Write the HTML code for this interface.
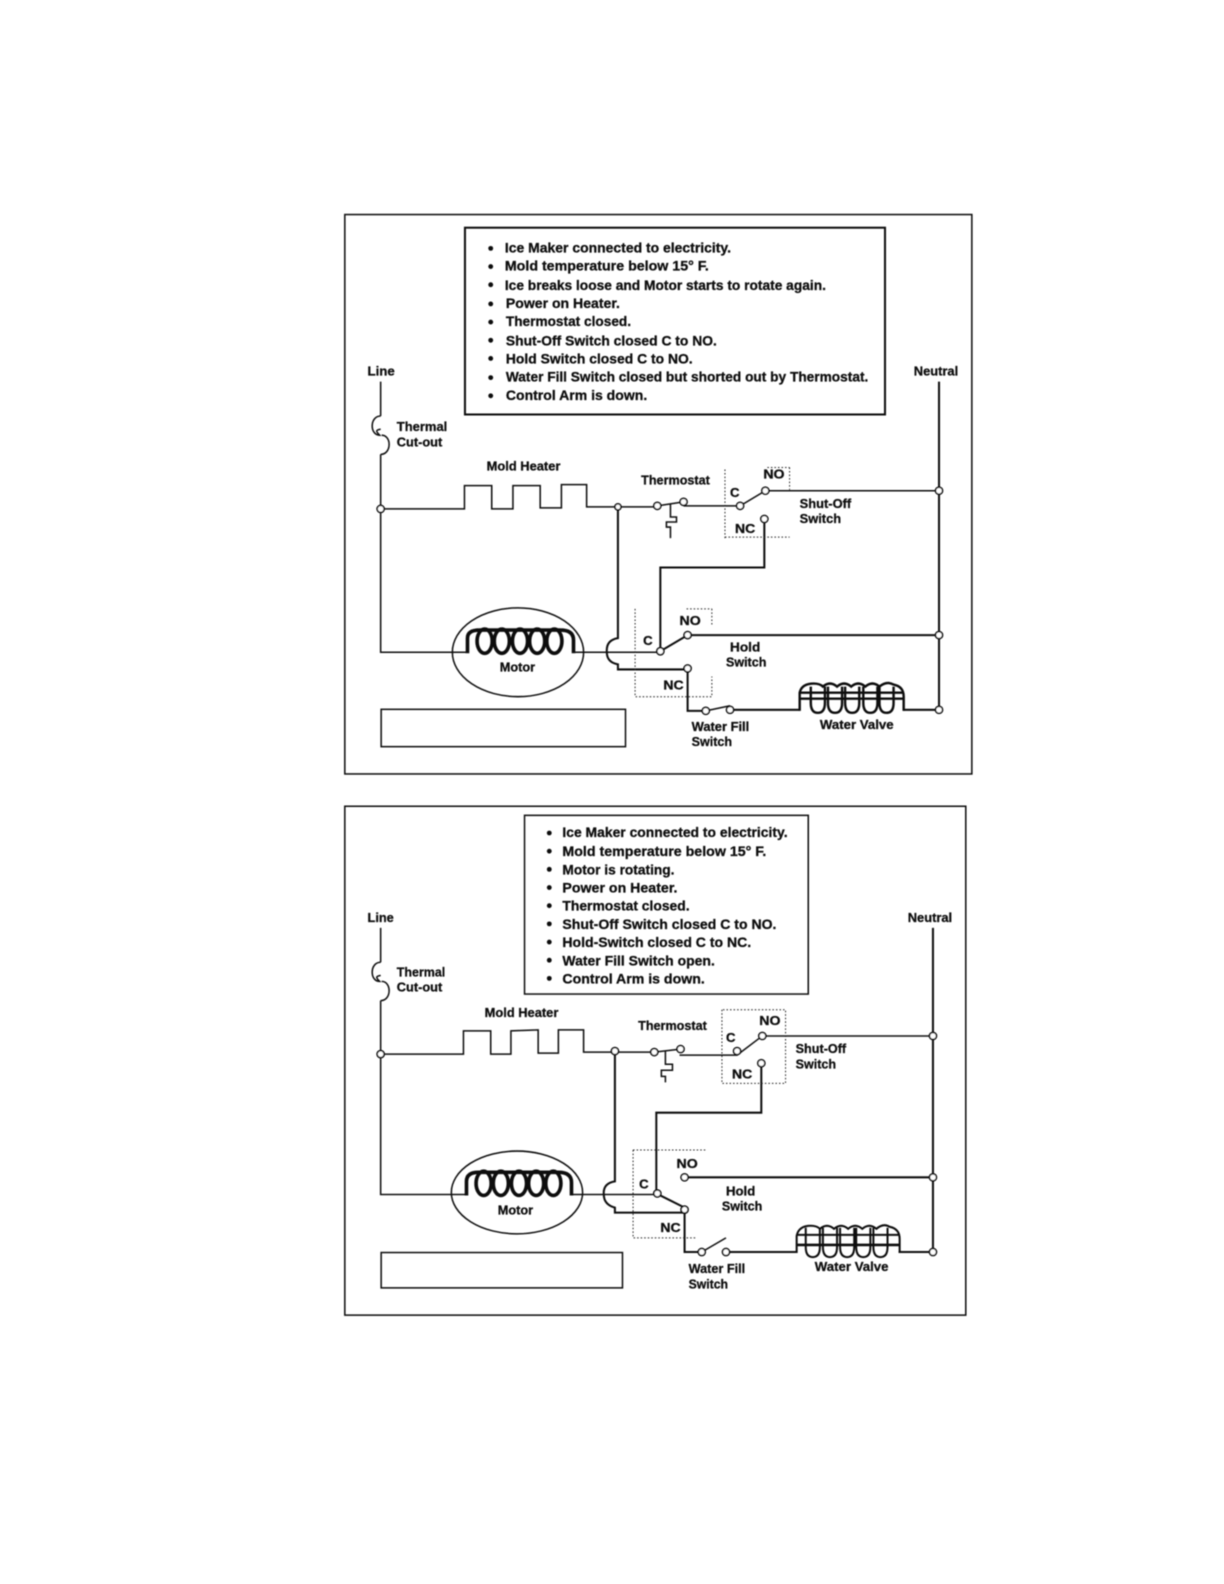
<!DOCTYPE html>
<html><head><meta charset="utf-8"><style>
html,body{margin:0;padding:0;background:#fff}
svg{display:block}
text{font-family:"Liberation Sans",sans-serif;font-weight:bold;font-size:14px;fill:#111;stroke:#111;stroke-width:.3}
.s text{font-size:13px}
.w{fill:none;stroke:#111;stroke-width:1.5}
.t{fill:none;stroke:#111;stroke-width:2}
.d{fill:none;stroke:#222;stroke-width:1;stroke-dasharray:1.5 2}
.n{fill:#fff;stroke:#111;stroke-width:1.6}
.c{fill:none;stroke:#111;stroke-width:3.6}
</style></head><body>
<svg width="1224" height="1584" viewBox="0 0 1224 1584" xmlns="http://www.w3.org/2000/svg">
<rect width="1224" height="1584" fill="#fff"/>
<defs><filter id="b" x="-5%" y="-5%" width="110%" height="110%"><feGaussianBlur stdDeviation="0.4"/></filter></defs>
<g filter="url(#b)"><g transform="scale(1.0097)">
<!-- TOP PANEL -->
<rect x="341.5" y="212.5" width="621" height="554" class="w"/>
<rect x="460.5" y="225.5" width="416" height="185" class="w" style="stroke-width:2"/>
<g fill="#111"><circle cx="486" cy="246" r="2.4"/><circle cx="486" cy="264" r="2.4"/><circle cx="486" cy="282" r="2.4"/><circle cx="486" cy="301" r="2.4"/><circle cx="486" cy="319" r="2.4"/><circle cx="486" cy="337" r="2.4"/><circle cx="486" cy="355" r="2.4"/><circle cx="486" cy="374" r="2.4"/><circle cx="486" cy="392" r="2.4"/></g>
<text x="500" y="250" textLength="224" lengthAdjust="spacingAndGlyphs">Ice Maker connected to electricity.</text>
<text x="500" y="268" textLength="202" lengthAdjust="spacingAndGlyphs">Mold temperature below 15° F.</text>
<text x="500" y="287" textLength="318" lengthAdjust="spacingAndGlyphs">Ice breaks loose and Motor starts to rotate again.</text>
<text x="501" y="305" textLength="113" lengthAdjust="spacingAndGlyphs">Power on Heater.</text>
<text x="501" y="323" textLength="124" lengthAdjust="spacingAndGlyphs">Thermostat closed.</text>
<text x="501" y="342" textLength="209" lengthAdjust="spacingAndGlyphs">Shut-Off Switch closed C to NO.</text>
<text x="501" y="360" textLength="185" lengthAdjust="spacingAndGlyphs">Hold Switch closed C to NO.</text>
<text x="501" y="378" textLength="359" lengthAdjust="spacingAndGlyphs">Water Fill Switch closed but shorted out by Thermostat.</text>
<text x="501" y="396" textLength="140" lengthAdjust="spacingAndGlyphs">Control  Arm is down.</text>
<rect x="377.5" y="702.5" width="242" height="37" class="w"/>
<g class="s">
<text x="364" y="372" textLength="27" lengthAdjust="spacingAndGlyphs">Line</text>
<text x="905" y="372" textLength="44" lengthAdjust="spacingAndGlyphs">Neutral</text>
<text x="393" y="427" textLength="50" lengthAdjust="spacingAndGlyphs">Thermal</text>
<text x="393" y="442" textLength="45" lengthAdjust="spacingAndGlyphs">Cut-out</text>
<text x="482" y="466" textLength="73" lengthAdjust="spacingAndGlyphs">Mold Heater</text>
<text x="635" y="480" textLength="68" lengthAdjust="spacingAndGlyphs">Thermostat</text>
<text x="723" y="492">C</text>
<text x="756" y="474" textLength="21" lengthAdjust="spacingAndGlyphs">NO</text>
<text x="728" y="528" textLength="20" lengthAdjust="spacingAndGlyphs">NC</text>
<text x="792" y="503" textLength="51" lengthAdjust="spacingAndGlyphs">Shut-Off</text>
<text x="792" y="518" textLength="41" lengthAdjust="spacingAndGlyphs">Switch</text>
<text x="673" y="619" textLength="21" lengthAdjust="spacingAndGlyphs">NO</text>
<text x="637" y="639">C</text>
<text x="723" y="645" textLength="30" lengthAdjust="spacingAndGlyphs">Hold</text>
<text x="719" y="660" textLength="40" lengthAdjust="spacingAndGlyphs">Switch</text>
<text x="657" y="683" textLength="20" lengthAdjust="spacingAndGlyphs">NC</text>
<text x="495" y="665" textLength="35" lengthAdjust="spacingAndGlyphs">Motor</text>
<text x="685" y="724" textLength="57" lengthAdjust="spacingAndGlyphs">Water Fill</text>
<text x="685" y="739" textLength="40" lengthAdjust="spacingAndGlyphs">Switch</text>
<text x="812" y="722" textLength="73" lengthAdjust="spacingAndGlyphs">Water Valve</text>
</g>
<path class="w" d="M377 378V412M377 450V646H463M568 646H654M377 504H460V481H487V504H508V481H535V503H556V480H581V502H651"/>
<path class="w" d="M377 412C366 412 366 431 376 431C372 427 372 426 377 425M377 450C388 450 388 431 378 431"/>
<path class="w" d="M677 501H733M733 501L758 486H930M651 501L677 497M664 499V512H670V517H660V522H664V533"/>
<path class="t" d="M930 378V703H895M612 502V632Q600 634 601 646Q601 656 612 658V663H681M757 518V562H654V645L681 629H930M681 662V704H699M723 703H792"/>
<path class="w" d="M699 704L723 699"/>
<path class="d" d="M718 465V534M718 532H782M782 463V485M760 463H782M629 603V690H705V670M705 603V620M680 603H705"/>
<ellipse cx="513" cy="646" rx="65" ry="44" class="w"/>
<g class="c"><path d="M463 647V632Q463 624 475 624H555Q568 624 568 634V647"/><ellipse cx="480" cy="635" rx="7.5" ry="12"/><ellipse cx="497" cy="635" rx="7.5" ry="12"/><ellipse cx="515" cy="635" rx="7.5" ry="12"/><ellipse cx="532" cy="635" rx="7.5" ry="12"/><ellipse cx="549" cy="635" rx="7.5" ry="12"/></g>
<g style="fill:none;stroke:#111;stroke-width:2.4"><path d="M792 704V686Q794 677 806 677Q812 677 815 680Q822 674 829 680Q836 674 843 680Q850 674 857 680Q864 674 871 680Q878 674 885 678Q895 680 895 690V704"/><path d="M792 686H895M792 692H895"/><path d="M803 680V696Q803 706 810 706Q817 706 817 696V680M820 680V696Q820 706 827 706Q834 706 834 696V680M837 680V696Q837 706 844 706Q851 706 851 696V680M855 680V696Q855 706 862 706Q869 706 869 696V680M871 680V696Q871 706 878 706Q885 706 885 696V680"/></g>
<g class="n"><circle cx="377" cy="504" r="3.5"/><circle cx="612" cy="502" r="3"/><circle cx="651" cy="501" r="3.5"/><circle cx="677" cy="497" r="3.5"/><circle cx="733" cy="501" r="3.5"/><circle cx="758" cy="486" r="3.5"/><circle cx="757" cy="514" r="3.5"/><circle cx="930" cy="486" r="3.5"/><circle cx="654" cy="645" r="3.5"/><circle cx="681" cy="629" r="3.5"/><circle cx="681" cy="662" r="3.5"/><circle cx="930" cy="629" r="3.5"/><circle cx="699" cy="704" r="3.5"/><circle cx="723" cy="703" r="3.5"/><circle cx="930" cy="703" r="3.5"/></g>

<!-- BOTTOM PANEL -->
<rect x="341.5" y="798.5" width="615" height="504" class="w"/>
<rect x="519.5" y="807.5" width="281" height="177" class="w"/>
<g fill="#111"><circle cx="544" cy="825" r="2.4"/><circle cx="544" cy="843" r="2.4"/><circle cx="544" cy="861" r="2.4"/><circle cx="544" cy="879" r="2.4"/><circle cx="544" cy="897" r="2.4"/><circle cx="544" cy="915" r="2.4"/><circle cx="544" cy="933" r="2.4"/><circle cx="544" cy="951" r="2.4"/><circle cx="544" cy="969" r="2.4"/></g>
<text x="557" y="829" textLength="223" lengthAdjust="spacingAndGlyphs">Ice Maker connected to electricity.</text>
<text x="557" y="848" textLength="202" lengthAdjust="spacingAndGlyphs">Mold temperature below 15° F.</text>
<text x="557" y="866" textLength="111" lengthAdjust="spacingAndGlyphs">Motor is rotating.</text>
<text x="557" y="884" textLength="114" lengthAdjust="spacingAndGlyphs">Power on Heater.</text>
<text x="557" y="902" textLength="126" lengthAdjust="spacingAndGlyphs">Thermostat closed.</text>
<text x="557" y="920" textLength="212" lengthAdjust="spacingAndGlyphs">Shut-Off Switch closed C to NO.</text>
<text x="557" y="938" textLength="187" lengthAdjust="spacingAndGlyphs">Hold-Switch closed C to NC.</text>
<text x="557" y="956" textLength="151" lengthAdjust="spacingAndGlyphs">Water Fill Switch open.</text>
<text x="557" y="974" textLength="141" lengthAdjust="spacingAndGlyphs">Control  Arm is down.</text>
<rect x="377.5" y="1240.5" width="239" height="35" class="w"/>
<g class="s">
<text x="364" y="913" textLength="26" lengthAdjust="spacingAndGlyphs">Line</text>
<text x="899" y="913" textLength="44" lengthAdjust="spacingAndGlyphs">Neutral</text>
<text x="393" y="967" textLength="48" lengthAdjust="spacingAndGlyphs">Thermal</text>
<text x="393" y="982" textLength="45" lengthAdjust="spacingAndGlyphs">Cut-out</text>
<text x="480" y="1007" textLength="73" lengthAdjust="spacingAndGlyphs">Mold Heater</text>
<text x="632" y="1020" textLength="68" lengthAdjust="spacingAndGlyphs">Thermostat</text>
<text x="719" y="1032">C</text>
<text x="752" y="1015" textLength="21" lengthAdjust="spacingAndGlyphs">NO</text>
<text x="725" y="1068" textLength="20" lengthAdjust="spacingAndGlyphs">NC</text>
<text x="788" y="1043" textLength="50" lengthAdjust="spacingAndGlyphs">Shut-Off</text>
<text x="788" y="1058" textLength="40" lengthAdjust="spacingAndGlyphs">Switch</text>
<text x="670" y="1157" textLength="21" lengthAdjust="spacingAndGlyphs">NO</text>
<text x="633" y="1177">C</text>
<text x="719" y="1184" textLength="29" lengthAdjust="spacingAndGlyphs">Hold</text>
<text x="715" y="1199" textLength="40" lengthAdjust="spacingAndGlyphs">Switch</text>
<text x="654" y="1220" textLength="20" lengthAdjust="spacingAndGlyphs">NC</text>
<text x="493" y="1203" textLength="35" lengthAdjust="spacingAndGlyphs">Motor</text>
<text x="682" y="1261" textLength="56" lengthAdjust="spacingAndGlyphs">Water Fill</text>
<text x="682" y="1276" textLength="39" lengthAdjust="spacingAndGlyphs">Switch</text>
<text x="807" y="1259" textLength="73" lengthAdjust="spacingAndGlyphs">Water Valve</text>
</g>
<path class="w" d="M377 919V953M377 991V1183H462M566 1183H651M377 1044H459V1021H486V1044H506V1021L533 1020V1043H553V1020H578V1042H648"/>
<path class="w" d="M377 953C366 953 366 972 376 972C372 968 372 967 377 966M377 991C388 991 388 972 378 972"/>
<path class="w" d="M673 1045H730L755 1026H924M648 1042L674 1039M659 1041V1054H666V1060H655V1066H659V1072"/>
<path class="t" d="M924 919V1240H890M609 1041V1170Q597 1172 598 1183Q598 1193 609 1196V1201H678M754 1056V1102H650V1182L678 1196M678 1201V1240H695M720 1240H789M680 1166H924"/>
<path class="w" d="M695 1240L719 1226"/>
<path class="d" d="M715 1000V1073H778V1000ZM627 1139V1226H690M627 1139H699"/>
<ellipse cx="512" cy="1181" rx="65" ry="41" class="w"/>
<g class="c"><path d="M462 1184V1170Q462 1161 474 1161H553Q566 1161 566 1171V1184"/><ellipse cx="479" cy="1172" rx="7.5" ry="12"/><ellipse cx="496" cy="1172" rx="7.5" ry="12"/><ellipse cx="514" cy="1172" rx="7.5" ry="12"/><ellipse cx="531" cy="1172" rx="7.5" ry="12"/><ellipse cx="548" cy="1172" rx="7.5" ry="12"/></g>
<g style="fill:none;stroke:#111;stroke-width:2"><path d="M789 1241V1224Q791 1214 803 1214Q809 1214 812 1217Q819 1211 826 1217Q833 1211 840 1217Q847 1211 854 1217Q861 1211 868 1217Q875 1211 881 1215Q891 1217 891 1227V1241"/><path d="M789 1223H891"/><path d="M789 1233H891" style="stroke-width:2.6"/><path d="M798 1216V1235Q798 1245 805 1245Q812 1245 812 1235V1216M815 1216V1235Q815 1245 822 1245Q829 1245 829 1235V1216M832 1216V1235Q832 1245 839 1245Q846 1245 846 1235V1216M848 1216V1235Q848 1245 855 1245Q862 1245 862 1235V1216M865 1216V1235Q865 1245 872 1245Q879 1245 879 1235V1216"/></g>
<g class="n"><circle cx="377" cy="1044" r="3.5"/><circle cx="609" cy="1041" r="3.5"/><circle cx="648" cy="1042" r="3.5"/><circle cx="674" cy="1039" r="3.5"/><circle cx="730" cy="1041" r="3.5"/><circle cx="755" cy="1026" r="3.5"/><circle cx="754" cy="1053" r="3.5"/><circle cx="924" cy="1026" r="3.5"/><circle cx="651" cy="1182" r="3.5"/><circle cx="678" cy="1166" r="3.5"/><circle cx="678" cy="1198" r="3.5"/><circle cx="924" cy="1166" r="3.5"/><circle cx="695" cy="1240" r="3.5"/><circle cx="719" cy="1240" r="3.5"/><circle cx="924" cy="1240" r="3.5"/></g>
</g></g>
</svg>
</body></html>
